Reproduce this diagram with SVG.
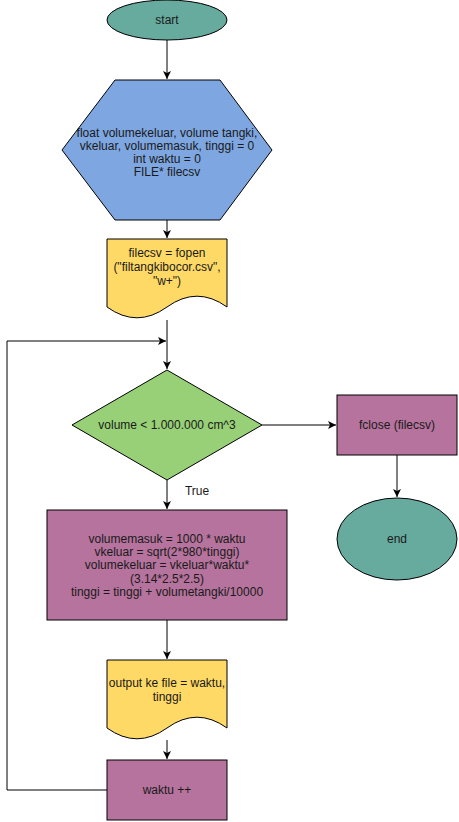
<svg xmlns="http://www.w3.org/2000/svg" width="459" height="822" viewBox="0 0 459 822">
<style>
.s{stroke:#000;stroke-width:1}
.t{font-family:"Liberation Sans",Arial,sans-serif;font-size:12px;fill:#1a1a1a;text-anchor:middle}
.c{fill:none;stroke:#000;stroke-width:1}
</style>
<defs>
<marker id="a" markerUnits="userSpaceOnUse" markerWidth="10" markerHeight="10" refX="8" refY="4" orient="auto">
<path d="M0,0 L8,4 L0,8 L2,4 Z" fill="#000"/>
</marker>
</defs>
<rect width="459" height="822" fill="#fff"/>
<g id="connectors">
<path class="c" d="M167,40 V79" marker-end="url(#a)"/>
<path class="c" d="M167,220 V238" marker-end="url(#a)"/>
<path class="c" d="M167,320 V369" marker-end="url(#a)"/>
<path class="c" d="M107,790 H7 V341 H166" marker-end="url(#a)"/>
<path class="c" d="M262,425 H336" marker-end="url(#a)"/>
<path class="c" d="M397,455 V497" marker-end="url(#a)"/>
<path class="c" d="M167,480 V509" marker-end="url(#a)"/>
<text class="t" x="197" y="495">True</text>
<path class="c" d="M167,620 V659" marker-end="url(#a)"/>
<path class="c" d="M167,740 V759" marker-end="url(#a)"/>
</g>
<g id="start">
<ellipse class="s" cx="167" cy="20" rx="60" ry="20" fill="#67AB9F"/>
<text class="t" x="167" y="24">start</text>
</g>
<g id="declare">
<polygon class="s" points="62,150 115,80 220,80 272,150 220,220 115,220" fill="#7EA6E0"/>
<text class="t" x="167" y="137">float volumekeluar, volume tangki,</text>
<text class="t" x="167" y="150">vkeluar, volumemasuk, tinggi = 0</text>
<text class="t" x="167" y="163">int waktu = 0</text>
<text class="t" x="167" y="176">FILE* filecsv</text>
</g>
<g id="fopen">
<path class="s" d="M107,239 H227 V307 Q197,285.4 167,307 Q137,328.6 107,307 Z" fill="#FFD966"/>
<text class="t" x="167" y="257">filecsv = fopen</text>
<text class="t" x="167" y="271">("filtangkibocor.csv",</text>
<text class="t" x="167" y="285">"w+")</text>
</g>
<g id="decision">
<polygon class="s" points="72,425 167,370 262,425 167,480" fill="#97D077"/>
<text class="t" x="167" y="429">volume &lt; 1.000.000 cm^3</text>
</g>
<g id="fclose">
<rect class="s" x="337" y="395" width="120" height="60" fill="#B5739D"/>
<text class="t" x="397" y="429">fclose (filecsv)</text>
</g>
<g id="end">
<ellipse class="s" cx="397" cy="539" rx="60" ry="41" fill="#67AB9F"/>
<text class="t" x="397" y="543">end</text>
</g>
<g id="process">
<rect class="s" x="47" y="510" width="240" height="110" fill="#B5739D"/>
<text class="t" x="167" y="543">volumemasuk = 1000 * waktu</text>
<text class="t" x="167" y="556">vkeluar = sqrt(2*980*tinggi)</text>
<text class="t" x="167" y="569">volumekeluar = vkeluar*waktu*</text>
<text class="t" x="167" y="583">(3.14*2.5*2.5)</text>
<text class="t" x="167" y="596">tinggi = tinggi + volumetangki/10000</text>
</g>
<g id="output">
<path class="s" d="M107,660 H227 V728 Q197,706.4 167,728 Q137,749.6 107,728 Z" fill="#FFD966"/>
<text class="t" x="167" y="687">output ke file = waktu,</text>
<text class="t" x="167" y="701">tinggi</text>
</g>
<g id="increment">
<rect class="s" x="107" y="760" width="120" height="60" fill="#B5739D"/>
<text class="t" x="167" y="794">waktu ++</text>
</g>
</svg>
